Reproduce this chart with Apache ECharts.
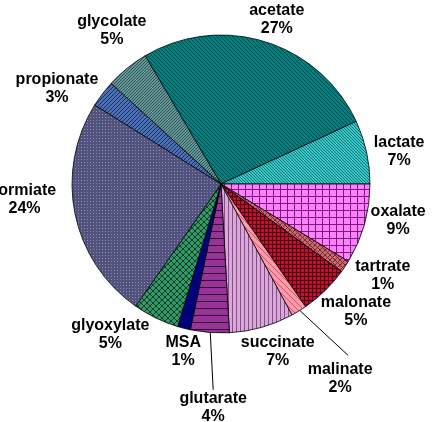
<!DOCTYPE html>
<html>
<head>
<meta charset="utf-8">
<script src="https://cdn.jsdelivr.net/npm/echarts@6/dist/echarts.min.js"></script>
<style>
  html, body { margin: 0; padding: 0; background: #fff; }
  #chart { width: 434px; height: 422px; }
</style>
</head>
<body>
<div id="chart"></div>
<script>
// slices, clockwise from the acetate edge
const acids = ['acetate', 'lactate', 'oxalate', 'tartrate', 'malonate', 'malinate',
  'succinate', 'glutarate', 'MSA', 'glyoxylate', 'formiate', 'propionate', 'glycolate']
const shares = [26.6, 6.9, 8.7, 1.3, 5.4, 1.7, 7.0, 4.2, 1.4, 5.0, 24.2, 2.9, 4.7]

// fill patterns (Excel style): [background, line colour, kind, period]
const fills = [
  ['#008080', '#024b4b', 'down', 4],
  ['#33cccc', '#1b6f70', 'down', 3],
  ['#ff80ff', '#7a1a7a', 'grid', 7],
  ['#cc6670', '#7a2a35', 'cross', 5],
  ['#c0103a', '#4a0012', 'grid', 4],
  ['#ff99aa', '#c05a6a', 'down', 6],
  ['#d8a8d8', '#8a4a8a', 'vert', 4],
  ['#993399', '#2a0a2a', 'horiz', 7],
  ['#00007a', '#000050', 'none', 4],
  ['#339966', '#143d28', 'cross', 6],
  ['#52527e', '#8e8eb4', 'dots', 3],
  ['#4a70b8', '#1c2d5c', 'up', 4],
  ['#669999', '#2e5050', 'up', 3]
]

// label spot around the pie: angle clockwise from 12 o'clock, distance from centre
const labelSpots = [
  [18.7, 174], [79.8, 181], [101.8, 181], [119.6, 186], [133.5, 186], [148.5, 228],
  [161.3, 177], [182, 224], [192.7, 172], [216.3, 187], [265.6, 197], [300.3, 190], [324.5, 188]
]
const leaderLines = ['malinate', 'glutarate']

const CX = 221, CY = 184, R = 149
const START = 120.6

function makePattern(bg, fg, kind, s) {
  const c = document.createElement('canvas')
  c.width = s; c.height = s
  const g = c.getContext('2d')
  g.fillStyle = bg
  g.fillRect(0, 0, s, s)
  g.strokeStyle = fg
  g.fillStyle = fg
  g.lineWidth = 1
  const line = (x1, y1, x2, y2) => { g.beginPath(); g.moveTo(x1, y1); g.lineTo(x2, y2); g.stroke() }
  if (kind === 'down' || kind === 'cross') {
    for (let k = -s; k <= s; k += s) line(k, 0, k + s, s)
  }
  if (kind === 'up' || kind === 'cross') {
    for (let k = 0; k <= 2 * s; k += s) line(k, 0, k - s, s)
  }
  if (kind === 'grid' || kind === 'horiz') line(0, 0.5, s, 0.5)
  if (kind === 'grid' || kind === 'vert') line(0.5, 0, 0.5, s)
  if (kind === 'dots') g.fillRect(0, 0, 1, 1)
  return { image: c, repeat: 'repeat' }
}

const total = shares.reduce((a, b) => a + b, 0)
const midAngles = []
let acc = -(START - 90)
shares.forEach(v => {
  const span = v / total * 360
  midAngles.push(acc + span / 2)
  acc += span
})

const polar = (deg, d) => {
  const a = deg * Math.PI / 180
  return [CX + Math.sin(a) * d, CY - Math.cos(a) * d]
}

const chart = echarts.init(document.getElementById('chart'))

chart.setOption({
  animation: false,
  series: [
    {
      type: 'pie',
      center: [CX, CY],
      radius: R,
      startAngle: START,
      clockwise: true,
      avoidLabelOverlap: false,
      itemStyle: { borderColor: '#000', borderWidth: 0.8 },
      label: {
        show: true,
        position: 'outside',
        formatter: p => p.name + '\n' + Math.round(p.percent) + '%',
        fontFamily: 'Liberation Sans, Arial, sans-serif',
        fontWeight: 'bold',
        fontSize: 16,
        lineHeight: 18,
        color: '#000',
        align: 'center'
      },
      labelLine: { show: false, lineStyle: { color: '#000', width: 1 } },
      labelLayout: p => {
        const i = p.dataIndex
        const [x, y] = polar(labelSpots[i][0], labelSpots[i][1])
        const out = { x, y, align: 'center', verticalAlign: 'middle' }
        if (leaderLines.includes(acids[i])) {
          const start = polar(midAngles[i], R - 4)
          const end = acids[i] === 'malinate' ? [x + 8, y - 23] : [x, y - 18]
          out.labelLinePoints = [start, end, end]
        }
        return out
      },
      data: acids.map((name, i) => ({
        name,
        value: shares[i],
        itemStyle: { color: makePattern(...fills[i]) },
        labelLine: { show: leaderLines.includes(name) }
      }))
    }
  ]
})
</script>
</body>
</html>
